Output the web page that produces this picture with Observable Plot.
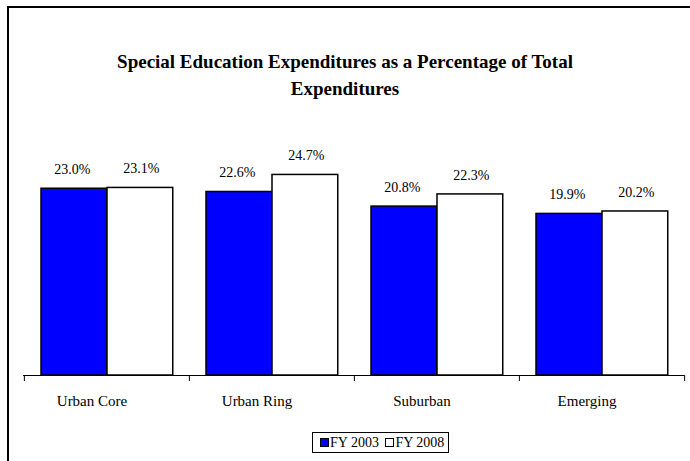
<!DOCTYPE html>
<html>
<head>
<meta charset="utf-8">
<script src="https://cdn.jsdelivr.net/npm/d3@7"></script>
<script src="https://cdn.jsdelivr.net/npm/@observablehq/plot@0.6"></script>
<style>
  html, body { margin: 0; padding: 0; background: #fff; overflow: hidden; }
  #wrap { position: relative; width: 690px; height: 461px; overflow: hidden; font-family: "Liberation Serif", "Times New Roman", serif; }
  #frame { position: absolute; left: 7px; top: 6px; width: 720px; height: 500px; border: 2px solid #000; box-sizing: border-box; }
  #title { position: absolute; left: 0; top: 48px; width: 690px; text-align: center; font-weight: bold; font-size: 19px; line-height: 27px; color: #000; }
  #chart { position: absolute; left: 0; top: 0; }
  #legend { position: absolute; left: 312px; top: 432px; height: 21px; border: 1px solid #000; box-sizing: border-box; font-size: 14px; line-height: 19px; padding: 0 4px 0 7px; white-space: nowrap; background: #fff; }
  .sw { display: inline-block; width: 9px; height: 9px; border: 1px solid #000; box-sizing: border-box; vertical-align: 0px; margin-right: 1px; }
</style>
</head>
<body>
<div id="wrap">
  <div id="frame"></div>
  <div id="chart"></div>
  <div id="title">Special Education Expenditures as a Percentage of Total<br>Expenditures</div>
  <div id="legend"><span class="sw" style="background:#0000FF"></span>FY 2003 <span class="sw" style="background:#fff;margin-left:3px"></span>FY 2008</div>
</div>
<script>
const categories = ["Urban Core", "Urban Ring", "Suburban", "Emerging"];
const seriesNames = ["FY 2003", "FY 2008"];
const fy2003 = [23.0, 22.6, 20.8, 19.9];
const fy2008 = [23.1, 24.7, 22.3, 20.2];

const rows = [];
categories.forEach((c, i) => {
  rows.push({category: c, series: seriesNames[0], value: fy2003[i]});
  rows.push({category: c, series: seriesNames[1], value: fy2008[i]});
});
const r03 = rows.filter(d => d.series === seriesNames[0]);
const r08 = rows.filter(d => d.series === seriesNames[1]);

const W = 690, ML = 23, MR = 6;
const band = (W - ML - MR) / categories.length;
const pad = 17, bw = 66;
const font = "Liberation Serif, Times New Roman, serif";

const chart = Plot.plot({
  width: W,
  height: 461,
  marginLeft: ML,
  marginRight: MR,
  marginTop: 172,
  marginBottom: 86,
  style: {background: "transparent", fontFamily: font, color: "#000", overflow: "visible"},
  x: {domain: categories, padding: 0, label: null},
  y: {domain: [0, 25], axis: null},
  marks: [
    Plot.barY(r03, {x: "category", y: "value", fill: "#0000FF", stroke: "#000", strokeWidth: 1.5,
      insetLeft: pad, insetRight: band - pad - bw}),
    Plot.barY(r08, {x: "category", y: "value", fill: "#fff", stroke: "#000", strokeWidth: 1.5,
      insetLeft: pad + bw, insetRight: band - pad - 2 * bw}),
    Plot.text(r03, {x: "category", y: "value", text: d => d.value.toFixed(1) + "%",
      dx: pad + bw / 2 - band / 2 - 2, dy: -19, fontSize: 14, fill: "#000", fontFamily: font}),
    Plot.text(r08, {x: "category", y: "value", text: d => d.value.toFixed(1) + "%",
      dx: pad + 1.5 * bw - band / 2 + 1, dy: -19, fontSize: 14, fill: "#000", fontFamily: font}),
    Plot.ruleY([0], {stroke: "#000", strokeWidth: 1}),
    Plot.ruleX(categories, {x: d => d, y1: 0, y2: 0, insetBottom: -6, dx: -band / 2, stroke: "#000"}),
    Plot.ruleX([categories[categories.length - 1]], {x: d => d, y1: 0, y2: 0, insetBottom: -6, dx: band / 2, stroke: "#000"}),
    Plot.axisX({tickSize: 0, tickPadding: 20, dx: -15, fontSize: 15, fill: "#000", fontFamily: font, label: null})
  ]
});
document.getElementById("chart").appendChild(chart);
</script>
</body>
</html>
